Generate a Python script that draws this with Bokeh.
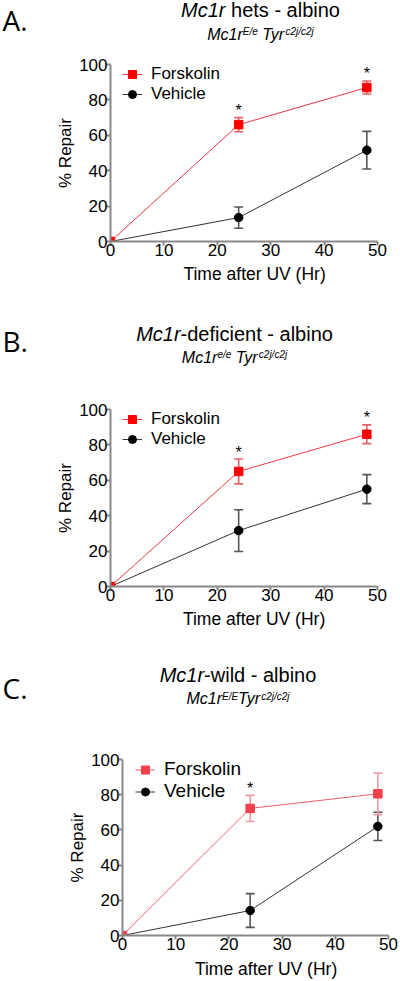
from bokeh.plotting import figure
from bokeh.models import (Range1d, FixedTicker, Whisker, TeeHead, ColumnDataSource,
                          Legend, LegendItem)
from bokeh.layouts import column
from bokeh.embed import file_html
from bokeh.resources import INLINE
from bokeh.core.properties import value

# ---------------- data ----------------
time_h = [0, 24, 48]
x_ticks = [0, 10, 20, 30, 40, 50]
y_ticks = [0, 20, 40, 60, 80, 100]
series_names = ["Forskolin", "Vehicle"]

forsk_A = [0, 66, 87]
forsk_A_err = [0, 4, 3.7]
veh_A = [0, 13.5, 51.6]
veh_A_err = [0, 6, 10.6]
sig_A = [24, 48]

forsk_B = [0, 65, 86]
forsk_B_err = [0, 7, 5.3]
veh_B = [0, 31.6, 55]
veh_B_err = [0, 11.8, 8.2]
sig_B = [24, 48]

forsk_C = [0, 72.2, 80.5]
forsk_C_err = [0, 7.4, 11.8]
veh_C = [0, 14.2, 62]
veh_C_err = [0, 9.6, 8.0]
sig_C = [24]

letters = ["A.", "B.", "C."]
title_runs = [
    [("Mc1r", "italic"), (" hets - albino", "normal")],
    [("Mc1r", "italic"), ("-deficient - albino", "normal")],
    [("Mc1r", "italic"), ("-wild - albino", "normal")],
]
sub_runs = [
    [("Mc1r", False), ("E/e", True), (" Tyr", False), ("c2j/c2j", True)],
    [("Mc1r", False), ("e/e", True), (" Tyr", False), ("c2j/c2j", True)],
    [("Mc1r", False), ("E/E", True), ("Tyr", False), ("c2j/c2j", True)],
]
x_label = "Time after UV (Hr)"
y_label = "% Repair"

# ---------------- layout / style ----------------
FONT = "Liberation Sans"
W = 400

panels = [
    dict(H=209, left=110, fw=267, top=8, fh=177,
         fk_marker="#ff0000", fk_line="#e8383f", fk_err="#e2606a",
         leg_font="17px", leg_gh=20, leg_dx=12, leg_dy=0),
    dict(H=238, left=110, fw=267, top=37, fh=177,
         fk_marker="#ff0000", fk_line="#e8383f", fk_err="#e2606a",
         leg_font="17px", leg_gh=20, leg_dx=12, leg_dy=0),
    dict(H=232, left=122, fw=266, top=34, fh=176,
         fk_marker="#f2404c", fk_line="#f0606a", fk_err="#f09aa4",
         leg_font="19px", leg_gh=21, leg_dx=13, leg_dy=1),
]
data = [
    (forsk_A, forsk_A_err, veh_A, veh_A_err, sig_A),
    (forsk_B, forsk_B_err, veh_B, veh_B_err, sig_B),
    (forsk_C, forsk_C_err, veh_C, veh_C_err, sig_C),
]

# text bands between the plots
bands_h = [56, 107, 115, 24]
# header placement per panel (y = vertical centre of the text):
# (band index, centre x, title y, subtitle y, letter y)
headers = [(0, 260, 9, 33.5, 19.5), (1, 234, 68, 91.5, 75), (2, 237.5, 64, 88, 77)]
# x-axis titles: (band index, centre x, y)
xtitles = [(1, 252, 8.5), (2, 251.5, 8), (3, 263.5, 11.5)]

# Arial / Liberation Sans advance widths (per 1000 em)
ADV = {' ': 278, '-': 333, '/': 278, '1': 556, '2': 556, 'M': 833, 'c': 500, 'r': 333,
       'h': 556, 'e': 556, 't': 278, 's': 500, 'a': 556, 'l': 222, 'b': 556, 'i': 222,
       'n': 556, 'o': 556, 'd': 556, 'f': 278, 'w': 722, 'T': 611, 'y': 500, 'E': 667,
       'j': 222}


def text_w(s, size):
    return sum(ADV.get(ch, 556) for ch in s) * size / 1000.0


def no_align(p):
    try:
        p.frame_align = False
    except Exception:
        pass


def make_panel(cfg, dset):
    fk, fk_err, vh, vh_err, sig = dset
    H, left, fw, top, fh = cfg["H"], cfg["left"], cfg["fw"], cfg["top"], cfg["fh"]
    p = figure(width=W, height=H, output_backend="svg", toolbar_location=None,
               x_range=Range1d(x_ticks[0], x_ticks[-1]),
               y_range=Range1d(y_ticks[0], y_ticks[-1]),
               min_border_left=left, min_border_right=W - left - fw,
               min_border_top=top, min_border_bottom=H - top - fh)
    no_align(p)
    p.outline_line_color = None
    p.xgrid.visible = False
    p.ygrid.visible = False
    p.background_fill_color = "white"
    p.border_fill_color = "white"

    for ax in (p.xaxis[0], p.yaxis[0]):
        ax.axis_line_color = "#888888"
        ax.axis_line_width = 2
        ax.major_tick_line_color = "#888888"
        ax.major_tick_line_width = 2
        ax.major_tick_out = 4
        ax.major_tick_in = 0
        ax.minor_tick_line_color = None
        ax.major_label_text_font = FONT
        ax.major_label_text_font_size = "17px"
        ax.major_label_text_color = "#000000"
    p.xaxis[0].ticker = FixedTicker(ticks=x_ticks)
    p.yaxis[0].ticker = FixedTicker(ticks=y_ticks)
    p.xaxis[0].major_label_standoff = -2
    p.yaxis[0].major_label_standoff = -1
    p.yaxis[0].axis_label = y_label
    p.yaxis[0].axis_label_text_font = FONT
    p.yaxis[0].axis_label_text_font_size = "17px"
    p.yaxis[0].axis_label_text_font_style = "normal"
    p.yaxis[0].axis_label_text_color = "#000000"
    p.yaxis[0].axis_label_standoff = 1

    def whisk(vals, errs, col):
        keep = [i for i, e in enumerate(errs) if e > 0]
        src = ColumnDataSource(dict(
            base=[time_h[i] for i in keep],
            upper=[vals[i] + errs[i] for i in keep],
            lower=[vals[i] - errs[i] for i in keep]))
        w = Whisker(source=src, base="base", upper="upper", lower="lower",
                    dimension="height", line_color=col, line_width=1.6,
                    upper_head=TeeHead(size=9, line_color=col, line_width=1.6),
                    lower_head=TeeHead(size=9, line_color=col, line_width=1.6))
        p.add_layout(w)

    whisk(vh, vh_err, "#555555")
    whisk(fk, fk_err, cfg["fk_err"])

    vl = p.line(time_h, vh, line_color="#333333", line_width=1)
    vs = p.scatter(time_h, vh, marker="circle", size=8.5, fill_color="#000000",
                   line_color="#000000")
    fl = p.line(time_h, fk, line_color=cfg["fk_line"], line_width=1)
    fs = p.scatter(time_h, fk, marker="square", size=8.5, fill_color=cfg["fk_marker"],
                   line_color=cfg["fk_marker"])

    sig_y = [fk[time_h.index(t)] + fk_err[time_h.index(t)] for t in sig]
    p.text(x=sig, y=sig_y, text=["*"] * len(sig), text_font=value(FONT),
           text_font_size="16px", text_align="center", text_baseline="middle",
           y_offset=-7, text_color="#000000")

    gh = cfg["leg_gh"]
    legend = Legend(items=[LegendItem(label=series_names[0], renderers=[fl, fs]),
                           LegendItem(label=series_names[1], renderers=[vl, vs])],
                    location=(cfg["leg_dx"], fh - 2 * gh - cfg["leg_dy"]),
                    orientation="vertical", label_text_font=FONT,
                    label_text_font_size=cfg["leg_font"], label_text_color="#000000",
                    glyph_width=20, glyph_height=gh, label_height=gh,
                    spacing=0, padding=0, margin=0, label_standoff=9,
                    border_line_color=None, background_fill_alpha=0)
    p.add_layout(legend)
    return p


def make_band(idx):
    h = bands_h[idx]
    b = figure(width=W, height=h, output_backend="svg", toolbar_location=None,
               x_range=Range1d(0, W), y_range=Range1d(h, 0),
               x_axis_type=None, y_axis_type=None,
               min_border_left=0, min_border_right=0,
               min_border_top=0, min_border_bottom=0)
    no_align(b)
    b.outline_line_color = None
    b.background_fill_color = "white"
    b.border_fill_color = "white"

    xs, ys, ts, sizes, styles = [], [], [], [], []

    def put(cx, y, t, size, style):
        # leading spaces are collapsed in SVG text: advance the pen instead
        lead = len(t) - len(t.lstrip(" "))
        x0 = cx + text_w(" " * lead, size)
        xs.append(x0); ys.append(y); ts.append(t.lstrip(" "))
        sizes.append(f"{size}px"); styles.append(style)
        return cx + text_w(t, size)

    lx, ly, lt = [], [], []
    for pi, (bi, cx0, ty, sy, ly0) in enumerate(headers):
        if bi != idx:
            continue
        runs = title_runs[pi]
        cx = cx0 - sum(text_w(t, 20) for t, _ in runs) / 2
        for t, st in runs:
            cx = put(cx, ty, t, 20, st)
        runs = sub_runs[pi]
        cx = cx0 - sum(text_w(t, 10 if s else 16) for t, s in runs) / 2
        for t, s in runs:
            cx = put(cx, sy - (2.5 if s else 0), t, 10 if s else 16, "italic")
        lx.append(2); ly.append(ly0); lt.append(letters[pi])
    for bi, cx0, yy in xtitles:
        if bi != idx:
            continue
        put(cx0 - text_w(x_label, 17.5) / 2, yy, x_label, 17.5, "normal")

    if ts:
        src = ColumnDataSource(dict(x=xs, y=ys, text=ts, size=sizes, style=styles))
        b.text(x="x", y="y", text="text", source=src, text_font=value(FONT),
               text_font_size="size", text_font_style="style", text_align="left",
               text_baseline="middle", text_color="#000000")
    if lt:
        b.text(x=lx, y=ly, text=lt, text_font=value("Open Sans"), text_font_size="28px",
               text_align="left", text_baseline="middle", text_color="#000000")
    return b


figs = [make_panel(cfg, d) for cfg, d in zip(panels, data)]
items = [make_band(0), figs[0], make_band(1), figs[1], make_band(2), figs[2], make_band(3)]
layout = column(*items, spacing=0)

open("out.html", "w").write(file_html(layout, INLINE))
